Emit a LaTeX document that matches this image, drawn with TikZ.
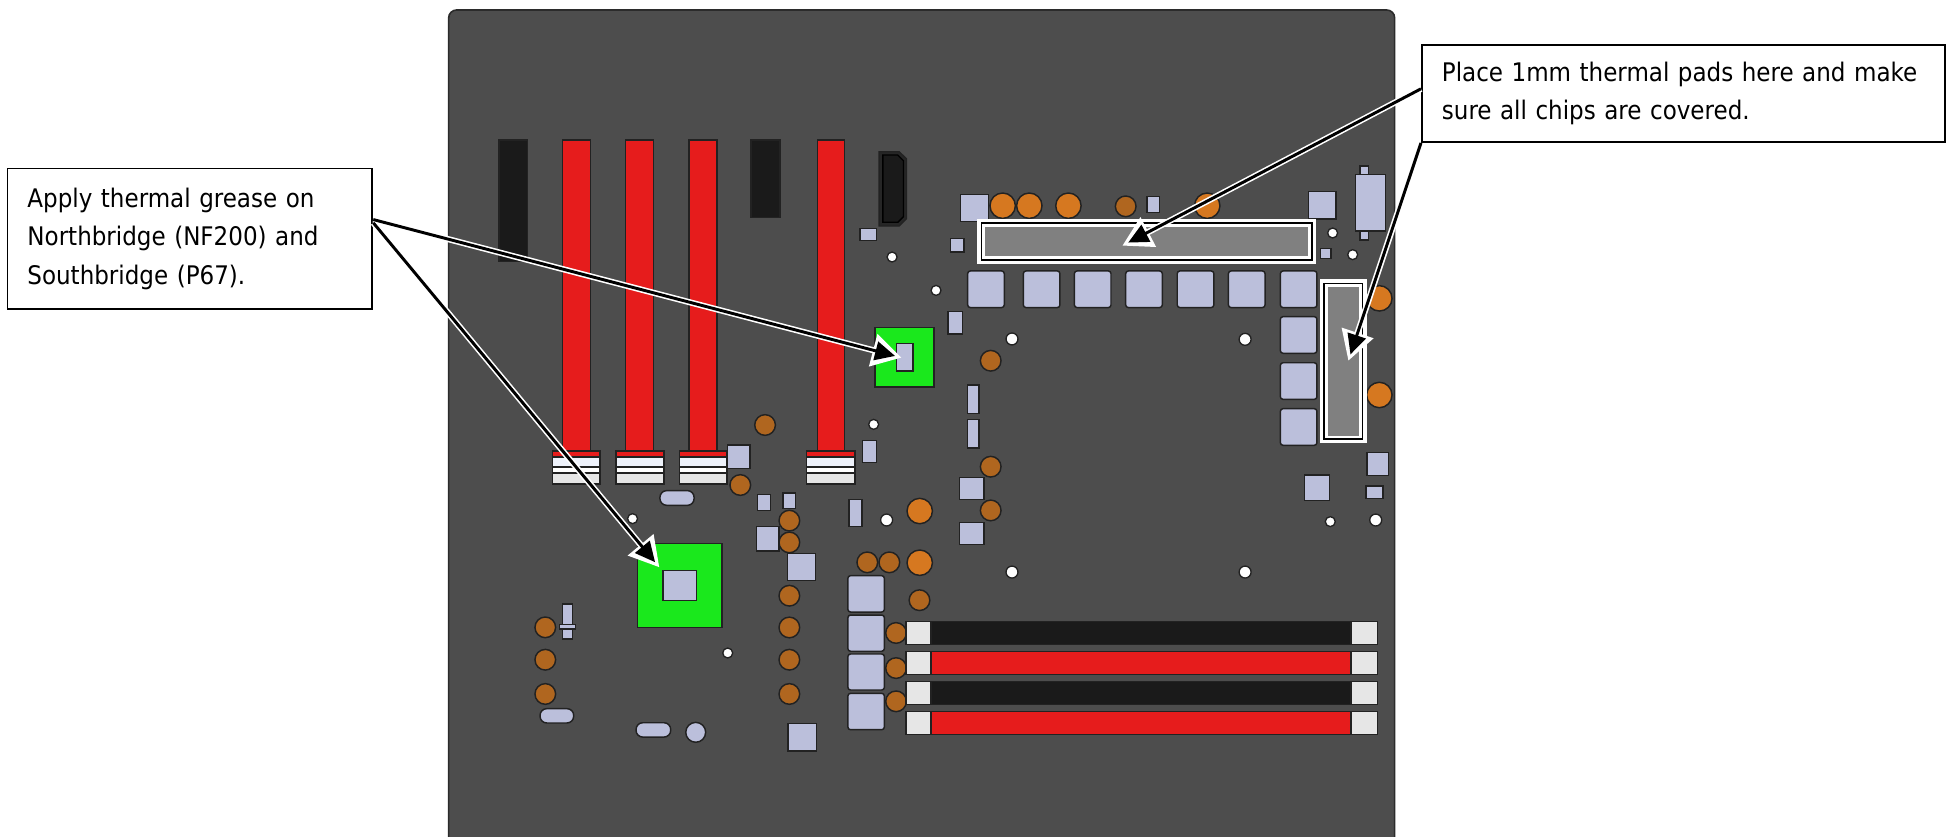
\documentclass[tikz,border=0pt]{standalone}
\usepackage{fontspec}
\setmainfont{DejaVu Sans Condensed}
\usepackage{xcolor}
\usetikzlibrary{arrows.meta}
\definecolor{boardgray}{HTML}{4D4D4D}
\definecolor{slotred}{HTML}{E61C1C}
\definecolor{slotblack}{HTML}{1A1A1A}
\definecolor{chipblue}{HTML}{BBBFDB}
\definecolor{capbig}{HTML}{D67820}
\definecolor{capsmall}{HTML}{B0661F}
\definecolor{heatgreen}{HTML}{1AE81C}
\definecolor{padgray}{HTML}{808080}
\definecolor{latchgray}{HTML}{E6E6E6}
\definecolor{barwhite}{HTML}{EEF2FB}
\definecolor{edgedark}{HTML}{222222}
\tikzset{>=latex}

\begin{document}
\begin{tikzpicture}[x=0.934pt, y=-0.934pt]
\tikzset{chip/.style={fill=chipblue, draw=edgedark, line width=1.1pt}}
\tikzset{softchip/.style={chip, rounded corners=2pt}}
\tikzset{slot/.style={draw=edgedark, line width=1.1pt}}
\tikzset{hole/.style={fill=white, draw=edgedark, line width=1pt}}
\tikzset{capB/.style={fill=capbig, draw=edgedark, line width=1.1pt}}
\tikzset{capS/.style={fill=capsmall, draw=edgedark, line width=1.1pt}}
\tikzset{note/.style={draw=black, fill=white, line width=1.4pt, align=left, inner xsep=15pt, inner ysep=0pt, font=\fontsize{19.2}{29}\selectfont}}
\tikzset{casing/.style={draw=white, line width=4.6pt, -{Triangle[length=22pt, width=24pt, fill=white]}}}
\tikzset{core/.style={draw=black, line width=2.2pt, shorten >=5pt, -{Triangle[length=15pt, width=14pt, fill=black]}}}
    \useasboundingbox (0,0) rectangle (1570,671.4);
% % % % % % % % % % % % % % % % % % %
    \filldraw[fill=boardgray, draw=edgedark!80!boardgray, line width=1.2pt, rounded corners=6pt] (360.3,690) -- (360.3,8) -- (1120,8) -- (1120,690) -- cycle;
% % % % % % % % % % % % % % % % % % % PCIe slots
    \filldraw[slot, fill=slotblack] (400.7,112.4) rectangle (423.8,210);
    \filldraw[slot, fill=slotblack] (603.1,112.4) rectangle (626.4,174.8);

    \filldraw[slot, fill=slotred] (451.6,112.4) rectangle (474,364);
    \filldraw[slot, fill=slotred] (502.5,112.4) rectangle (525,364);
    \filldraw[slot, fill=slotred] (553.3,112.4) rectangle (575.8,364);
    \filldraw[slot, fill=slotred] (656.4,112.4) rectangle (678.3,364);

    \filldraw[slot, fill=slotred] (443.6,362) rectangle (482,368);
    \filldraw[slot, fill=slotred] (494.5,362) rectangle (533.3,368);
    \filldraw[slot, fill=slotred] (545.5,362) rectangle (583.8,368);
    \filldraw[slot, fill=slotred] (647.8,362) rectangle (686.6,368);

    \filldraw[slot, fill=barwhite] (443.6,367) rectangle (482,375);
    \filldraw[slot, fill=barwhite] (494.5,367) rectangle (533.3,375);
    \filldraw[slot, fill=barwhite] (545.5,367) rectangle (583.8,375);
    \filldraw[slot, fill=barwhite] (647.8,367) rectangle (686.6,375);

    \filldraw[slot, fill=white] (443.6,375) rectangle (482,380);
    \filldraw[slot, fill=white] (494.5,375) rectangle (533.3,380);
    \filldraw[slot, fill=white] (545.5,375) rectangle (583.8,380);
    \filldraw[slot, fill=white] (647.8,375) rectangle (686.6,380);

    \filldraw[slot, fill=latchgray] (443.6,380) rectangle (482,388.7);
    \filldraw[slot, fill=latchgray] (494.5,380) rectangle (533.3,388.7);
    \filldraw[slot, fill=latchgray] (545.5,380) rectangle (583.8,388.7);
    \filldraw[slot, fill=latchgray] (647.8,380) rectangle (686.6,388.7);
% % % % % % % % % % % % % % % % % % % HDMI port
    \filldraw[fill=black!85, draw=edgedark, line width=1pt] (706,121.8) -- (722,121.8) -- (728,127.5) -- (728,175.5) -- (722,181.5) -- (706,181.5) -- cycle;
    \filldraw[fill=slotblack, draw=black, line width=1pt] (709,124.5) -- (721,124.5) -- (725.5,129) -- (725.5,174) -- (721,178.5) -- (709,178.5) -- cycle;
% % % % % % % % % % % % % % % % % % % heatsinks
    \filldraw[slot, fill=heatgreen] (702.7,263.2) rectangle (750.1,310.8);
    \filldraw[slot, fill=heatgreen] (511.8,436.6) rectangle (579.8,504);
    \filldraw[chip] (720.1,276) rectangle (733.2,298);
    \filldraw[chip] (532.4,458.3) rectangle (559.5,482.4);
% % % % % % % % % % % % % % % % % % % capacitors
    \filldraw[capB] (805.2,165.2) circle (10.2);
    \filldraw[capB] (826.6,165.2) circle (10.2);
    \filldraw[capB] (858,165.2) circle (10.2);
    \filldraw[capB] (969.5,165.2) circle (10.2);
    \filldraw[capB] (1107.7,239.6) circle (10.2);
    \filldraw[capB] (1107.7,317.2) circle (10.2);
    \filldraw[capB] (738.6,410.4) circle (10.2);
    \filldraw[capB] (738.6,451.9) circle (10.2);

    \filldraw[capS] (904,165.7) circle (8.3);
    \filldraw[capS] (795.6,289.7) circle (8.3);
    \filldraw[capS] (614.4,341.3) circle (8.3);
    \filldraw[capS] (594.5,389.5) circle (8.3);
    \filldraw[capS] (795.6,374.8) circle (8.3);
    \filldraw[capS] (795.6,409.9) circle (8.3);
    \filldraw[capS] (633.9,418.1) circle (8.3);
    \filldraw[capS] (633.9,435.6) circle (8.3);
    \filldraw[capS] (633.9,478.4) circle (8.3);
    \filldraw[capS] (633.9,503.9) circle (8.3);
    \filldraw[capS] (633.9,529.8) circle (8.3);
    \filldraw[capS] (633.9,557.3) circle (8.3);
    \filldraw[capS] (696.5,451.6) circle (8.3);
    \filldraw[capS] (714.2,451.6) circle (8.3);
    \filldraw[capS] (738.4,482) circle (8.3);
    \filldraw[capS] (719.6,508.3) circle (8.3);
    \filldraw[capS] (719.6,536.5) circle (8.3);
    \filldraw[capS] (719.6,563.2) circle (8.3);
    \filldraw[capS] (437.9,503.8) circle (8.3);
    \filldraw[capS] (437.9,529.8) circle (8.3);
    \filldraw[capS] (437.9,557.3) circle (8.3);
% % % % % % % % % % % % % % % % % % % mounting holes
    \filldraw[hole] (716.4,206.4) circle (4);
    \filldraw[hole] (751.7,233.2) circle (4);
    \filldraw[hole] (812.7,272.2) circle (4.8);
    \filldraw[hole] (999.9,272.5) circle (4.8);
    \filldraw[hole] (701.6,340.8) circle (4);
    \filldraw[hole] (508,416.5) circle (4);
    \filldraw[hole] (712,417.6) circle (4.8);
    \filldraw[hole] (812.7,459.4) circle (4.8);
    \filldraw[hole] (999.9,459.4) circle (4.8);
    \filldraw[hole] (584.4,524.4) circle (4);
    \filldraw[hole] (1070.2,187.1) circle (4);
    \filldraw[hole] (1086.3,204.5) circle (4);
    \filldraw[hole] (1068.3,418.9) circle (4);
    \filldraw[hole] (1104.8,417.6) circle (4.8);
% % % % % % % % % % % % % % % % % % % small parts
    \filldraw[chip] (690.6,183.4) rectangle (704,193.3);
    \filldraw[chip] (763.5,191.7) rectangle (774,202.4);
    \filldraw[chip] (771.5,156.3) rectangle (793.7,177.7);
    \filldraw[chip] (921,158) rectangle (931,170.5);
    \filldraw[chip] (1050.7,153.9) rectangle (1072.7,175.9);
    \filldraw[chip] (1060.4,199.4) rectangle (1068.7,207.4);
    \filldraw[chip] (1092.2,133.3) rectangle (1098.9,192.7);
    \filldraw[chip] (1088.5,140) rectangle (1112.8,185.5);
    \filldraw[chip] (761.3,250.3) rectangle (772.8,268.3);
    \filldraw[chip] (776.8,309.2) rectangle (786.2,332);
    \filldraw[chip] (776.8,337) rectangle (786.2,359.8);
    \filldraw[chip] (692.5,353.9) rectangle (704,371.6);
    \filldraw[chip] (584.4,357.4) rectangle (602.3,376.4);
    \filldraw[chip] (608.5,397.3) rectangle (618.6,410.1);
    \filldraw[chip] (628.8,395.9) rectangle (638.7,408.5);
    \filldraw[chip] (681.8,401) rectangle (692.3,423);
    \filldraw[chip] (607.7,422.7) rectangle (625.4,442.3);
    \filldraw[chip] (632.6,444.4) rectangle (655,466);
    \filldraw[chip] (770.7,383.6) rectangle (790.3,401);
    \filldraw[chip] (770.7,419.8) rectangle (790.3,437.4);
    \filldraw[chip] (632.8,580.9) rectangle (655.9,603.1);
    \filldraw[chip] (1047.5,381.5) rectangle (1067.5,401.8);
    \filldraw[chip] (1097.6,363.2) rectangle (1114.9,382);
    \filldraw[chip] (1097,390.3) rectangle (1110.5,400.2);
    \filldraw[chip] (451.6,485) rectangle (459.9,513.2);
    \filldraw[chip] (449.2,501.6) rectangle (462.3,505.2);

    \filldraw[chip, rounded corners=5pt] (530,394) rectangle (557.4,405.8);
    \filldraw[chip, rounded corners=5pt] (433.7,569.1) rectangle (460.7,580.6);
    \filldraw[chip, rounded corners=5pt] (510.8,580.4) rectangle (538.6,591.9);
    \filldraw[chip] (558.7,588.1) circle (8);
% % % % % % % % % % % % % % % % % % % chokes
    \filldraw[softchip] (777.1,217.6) rectangle (806.5,247);
    \filldraw[softchip] (821.8,217.6) rectangle (851.2,247);
    \filldraw[softchip] (862.8,217.6) rectangle (892.2,247);
    \filldraw[softchip] (904,217.6) rectangle (933.4,247);
    \filldraw[softchip] (945.4,217.6) rectangle (974.8,247);
    \filldraw[softchip] (986.5,217.6) rectangle (1015.9,247);
    \filldraw[softchip] (1028.2,217.6) rectangle (1057.6,247);
    \filldraw[softchip] (1028.2,254.3) rectangle (1057.6,283.7);
    \filldraw[softchip] (1028.2,291.3) rectangle (1057.6,320.7);
    \filldraw[softchip] (1028.2,328.2) rectangle (1057.6,357.6);

    \filldraw[softchip] (680.9,462.3) rectangle (710.2,491.5);
    \filldraw[softchip] (680.9,493.9) rectangle (710.2,523);
    \filldraw[softchip] (680.9,525.2) rectangle (710.2,554.1);
    \filldraw[softchip] (680.9,556.8) rectangle (710.2,586);
% % % % % % % % % % % % % % % % % % % memory slots
    \filldraw[slot, fill=slotblack] (747.7,499.2) rectangle (1085,517.7);
    \filldraw[slot, fill=slotred] (747.7,523) rectangle (1085,541.5);
    \filldraw[slot, fill=slotblack] (747.7,547.2) rectangle (1085,565.9);
    \filldraw[slot, fill=slotred] (747.7,571.2) rectangle (1085,589.7);

    \filldraw[slot, fill=latchgray] (727.6,499.2) rectangle (747.7,517.7);
    \filldraw[slot, fill=latchgray] (727.6,523) rectangle (747.7,541.5);
    \filldraw[slot, fill=latchgray] (727.6,547.2) rectangle (747.7,565.9);
    \filldraw[slot, fill=latchgray] (727.6,571.2) rectangle (747.7,589.7);

    \filldraw[slot, fill=latchgray] (1085,499.2) rectangle (1106,517.7);
    \filldraw[slot, fill=latchgray] (1085,523) rectangle (1106,541.5);
    \filldraw[slot, fill=latchgray] (1085,547.2) rectangle (1106,565.9);
    \filldraw[slot, fill=latchgray] (1085,571.2) rectangle (1106,589.7);
% % % % % % % % % % % % % % % % % % % thermal pads
    \fill[white] (784.9,175.9) rectangle (1056.9,212);
    \fill[black] (787.6,178.6) rectangle (1054.2,209.3);
    \fill[white] (788.9,179.9) rectangle (1052.9,208);
    \fill[padgray] (791.1,182.1) rectangle (1050.7,205.8);

    \fill[white] (1060,224.3) rectangle (1097.5,356);
    \fill[black] (1062.7,227) rectangle (1094.8,353.3);
    \fill[white] (1064,228.3) rectangle (1093.5,352);
    \fill[padgray] (1066.2,230.5) rectangle (1091.3,349.8);
% % % % % % % % % % % % % % % % % % % callouts
    \coordinate (Tn) at (724,287.2);
    \coordinate (Ts) at (529.5,455.6);
    \coordinate (Tt) at (901.3,197.3);
    \coordinate (Tv) at (1082.8,289.7);

    \node[note, text width=243.7pt, minimum width=273.7pt, minimum height=105.5pt] (noteL) at (152.5,191.8) {Apply thermal grease on\\Northbridge (NF200) and\\Southbridge (P67).};
    \node[note, text width=362.5pt, minimum width=392.5pt, minimum height=72.9pt] (noteR) at (1352,75) {Place 1mm thermal pads here and make\\sure all chips are covered.};

    \draw[casing] (noteL.6.5) -- (Tn);
    \draw[casing] (noteL.5.4) -- (Ts);
    \draw[casing] (noteR.179.3) -- (Tt);
    \draw[casing] (noteR.south west) -- (Tv);

    \draw[core] (noteL.6.5) -- (Tn);
    \draw[core] (noteL.5.4) -- (Ts);
    \draw[core] (noteR.179.3) -- (Tt);
    \draw[core] (noteR.south west) -- (Tv);
\end{tikzpicture}
\end{document}
